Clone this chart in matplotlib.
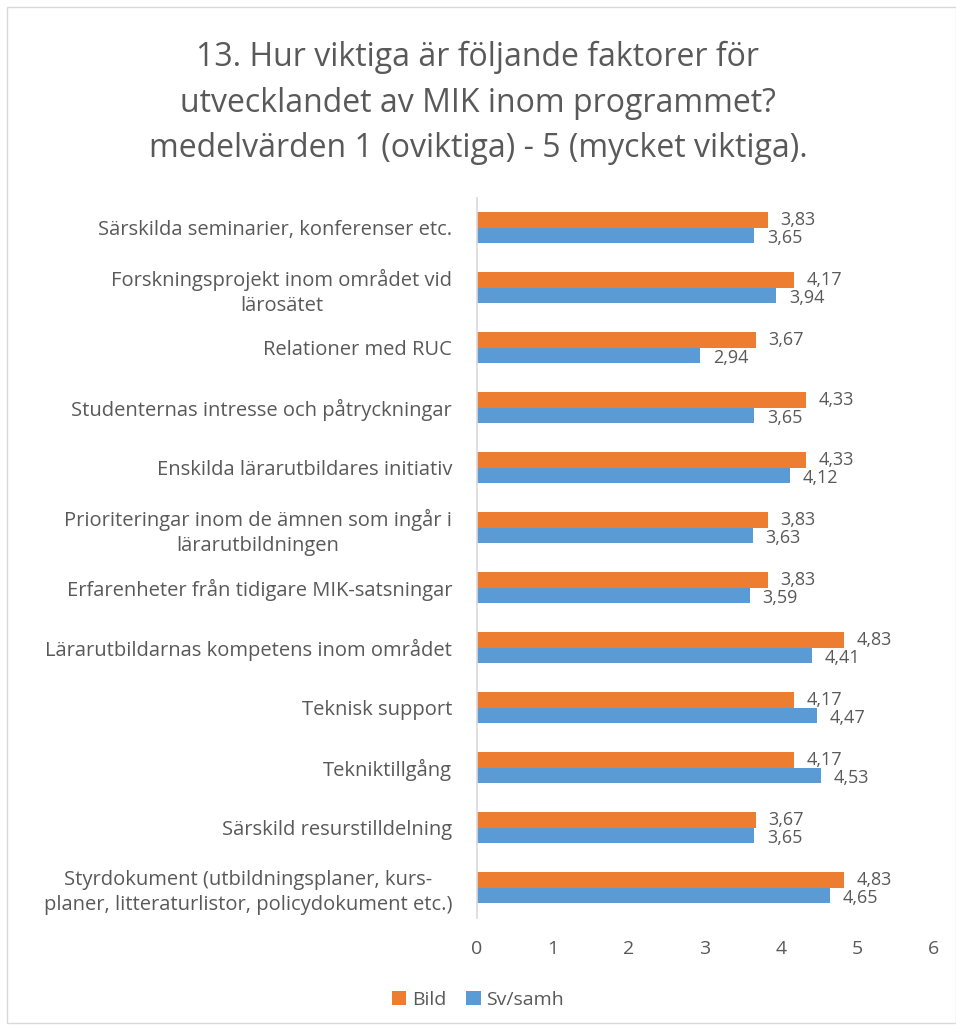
import numpy as np
import matplotlib
matplotlib.use('Agg')
import matplotlib.pyplot as plt
from matplotlib.patches import Rectangle

plt.rcParams['font.family'] = ['Open Sans', 'DejaVu Sans']

# ---- data (top to bottom as in the chart) ----
categories = [
    'Särskilda seminarier, konferenser etc.',
    'Forskningsprojekt inom området vid\nlärosätet',
    'Relationer med RUC',
    'Studenternas intresse och påtryckningar',
    'Enskilda lärarutbildares initiativ',
    'Prioriteringar inom de ämnen som ingår i\nlärarutbildningen',
    'Erfarenheter från tidigare MIK-satsningar',
    'Lärarutbildarnas kompetens inom området',
    'Teknisk support',
    'Tekniktillgång',
    'Särskild resurstilldelning',
    'Styrdokument (utbildningsplaner, kurs-\nplaner, litteraturlistor, policydokument etc.)',
]
bild = [3.83, 4.17, 3.67, 4.33, 4.33, 3.83, 3.83, 4.83, 4.17, 4.17, 3.67, 4.83]
svsamh = [3.65, 3.94, 2.94, 3.65, 4.12, 3.63, 3.59, 4.41, 4.47, 4.53, 3.65, 4.65]
series_names = ['Bild', 'Sv/samh']
title = ('13. Hur viktiga är följande faktorer för\n'
         'utvecklandet av MIK inom programmet?\n'
         'medelvärden 1 (oviktiga) - 5 (mycket viktiga).')

C_ORANGE = '#ED7D31'
C_BLUE = '#5B9BD5'
TXT = '#595959'

fig = plt.figure(figsize=(9.56, 10.30), dpi=100)
ax = fig.add_axes([0.499, 0.109, 0.477, 0.699])

y = np.arange(len(categories))
h = 0.26
b1 = ax.barh(y - h / 2, bild, height=h, color=C_ORANGE, label=series_names[0])
b2 = ax.barh(y + h / 2, svsamh, height=h, color=C_BLUE, label=series_names[1])

# value labels; orange ones nudged up a touch so the pairs don't collide
for bars, vals, dy in [(b1, bild, 0), (b2, svsamh, -2)]:
    for r, v in zip(bars, vals):
        ax.annotate(f'{v:.2f}'.replace('.', ','),
                    (r.get_width(), r.get_y() + r.get_height() / 2),
                    xytext=(9, dy), textcoords='offset points',
                    ha='left', va='center', fontsize=13, color=TXT)

ax.set_ylim(len(categories) - 0.5, -0.5)
ax.set_xlim(0, 6)
ax.set_xticks(range(7))
ax.set_yticks(y)
ax.set_yticklabels(categories, multialignment='center', linespacing=1.3)
ax.tick_params(axis='y', length=0, pad=18, labelsize=14.5, labelcolor=TXT)
ax.tick_params(axis='x', length=0, pad=16, labelsize=14, labelcolor=TXT)
for s in ['top', 'right', 'bottom']:
    ax.spines[s].set_visible(False)
ax.spines['left'].set_color('#d9d9d9')
ax.spines['left'].set_linewidth(1.2)

fig.text(0.5, 0.9, title, ha='center', va='center', fontsize=23,
         color=TXT, linespacing=1.5)

fig.legend(handles=[b1, b2], loc='center', bbox_to_anchor=(0.5, 0.029),
           ncol=2, frameon=False, fontsize=14, labelcolor=TXT,
           handlelength=0.75, handleheight=0.75, handletextpad=0.3,
           columnspacing=1.0)

# light outer border of the chart area
fig.patches.append(Rectangle((0.007, 0.007), 0.993, 0.986, transform=fig.transFigure,
                             fill=False, ec='#d9d9d9', lw=1.0))

fig.savefig('out.png', dpi=100)
